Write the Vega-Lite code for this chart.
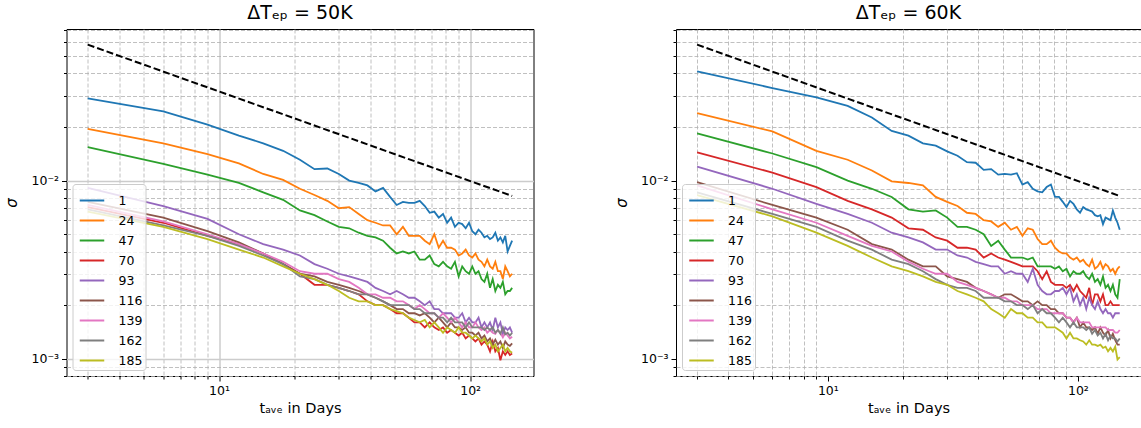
{
"$schema": "https://vega.github.io/schema/vega-lite/v6.json",
"padding": {"left": 3.5, "top": 3, "right": 0, "bottom": 0},
"spacing": 78.5,
"config": {
  "font": "DejaVu Sans",
  "view": {"stroke": "#000000", "strokeWidth": 1},
  "axis": {"domain": false, "labelFont": "DejaVu Sans", "labelFontSize": 12.5, "labelColor": "#000000", "titleFont": "DejaVu Sans", "titleFontSize": 14.5, "titleFontWeight": "normal", "titleColor": "#000000", "tickColor": "#000000", "labelPadding": 3, "tickWidth": 1},
  "title": {"font": "DejaVu Sans", "fontSize": 19, "fontWeight": "normal", "color": "#000000"}
},
"datasets": {
  "ref": [{"t": 3, "v": 0.058}, {"t": 147, "v": 0.0082}],
  "a": [
{"s":"1","t":3,"v":0.0290},{"s":"1","t":6,"v":0.0245},{"s":"1","t":9,"v":0.0206},{"s":"1","t":12,"v":0.0179},{"s":"1","t":15,"v":0.0162},{"s":"1","t":18,"v":0.0147},{"s":"1","t":21,"v":0.0131},{"s":"1","t":24,"v":0.0116},{"s":"1","t":27,"v":0.0117},{"s":"1","t":30,"v":0.0109},{"s":"1","t":33,"v":0.0100},{"s":"1","t":36,"v":0.0097},{"s":"1","t":39,"v":0.0094},{"s":"1","t":42,"v":0.0087},{"s":"1","t":45,"v":0.0091},{"s":"1","t":48,"v":0.0081},{"s":"1","t":51,"v":0.0073},{"s":"1","t":54,"v":0.0076},{"s":"1","t":57,"v":0.0075},{"s":"1","t":60,"v":0.0075},{"s":"1","t":63,"v":0.0077},{"s":"1","t":66,"v":0.0072},{"s":"1","t":69,"v":0.0066},{"s":"1","t":72,"v":0.0067},{"s":"1","t":75,"v":0.0062},{"s":"1","t":78,"v":0.0065},{"s":"1","t":81,"v":0.0058},{"s":"1","t":84,"v":0.0062},{"s":"1","t":87,"v":0.0055},{"s":"1","t":90,"v":0.0058},{"s":"1","t":93,"v":0.0057},{"s":"1","t":96,"v":0.0054},{"s":"1","t":99,"v":0.0058},{"s":"1","t":102,"v":0.0052},{"s":"1","t":105,"v":0.0050},{"s":"1","t":108,"v":0.0053},{"s":"1","t":111,"v":0.0051},{"s":"1","t":114,"v":0.0048},{"s":"1","t":117,"v":0.0049},{"s":"1","t":120,"v":0.0047},{"s":"1","t":123,"v":0.0048},{"s":"1","t":126,"v":0.0051},{"s":"1","t":129,"v":0.0046},{"s":"1","t":132,"v":0.0048},{"s":"1","t":135,"v":0.0045},{"s":"1","t":138,"v":0.0049},{"s":"1","t":141,"v":0.0040},{"s":"1","t":144,"v":0.0043},{"s":"1","t":147,"v":0.0046},
{"s":"24","t":3,"v":0.0195},{"s":"24","t":6,"v":0.0162},{"s":"24","t":9,"v":0.0141},{"s":"24","t":12,"v":0.0125},{"s":"24","t":15,"v":0.0109},{"s":"24","t":18,"v":0.0101},{"s":"24","t":21,"v":0.0090},{"s":"24","t":24,"v":0.0083},{"s":"24","t":27,"v":0.0077},{"s":"24","t":30,"v":0.0070},{"s":"24","t":33,"v":0.0071},{"s":"24","t":36,"v":0.0065},{"s":"24","t":39,"v":0.0060},{"s":"24","t":42,"v":0.0058},{"s":"24","t":45,"v":0.0056},{"s":"24","t":48,"v":0.0056},{"s":"24","t":51,"v":0.0050},{"s":"24","t":54,"v":0.0055},{"s":"24","t":57,"v":0.0049},{"s":"24","t":60,"v":0.0049},{"s":"24","t":63,"v":0.0049},{"s":"24","t":66,"v":0.0046},{"s":"24","t":69,"v":0.0044},{"s":"24","t":72,"v":0.0050},{"s":"24","t":75,"v":0.0042},{"s":"24","t":78,"v":0.0046},{"s":"24","t":81,"v":0.0042},{"s":"24","t":84,"v":0.0042},{"s":"24","t":87,"v":0.0041},{"s":"24","t":90,"v":0.0038},{"s":"24","t":93,"v":0.0039},{"s":"24","t":96,"v":0.0041},{"s":"24","t":99,"v":0.0038},{"s":"24","t":102,"v":0.0037},{"s":"24","t":105,"v":0.0039},{"s":"24","t":108,"v":0.0036},{"s":"24","t":111,"v":0.0035},{"s":"24","t":114,"v":0.0033},{"s":"24","t":117,"v":0.0036},{"s":"24","t":120,"v":0.0033},{"s":"24","t":123,"v":0.0032},{"s":"24","t":126,"v":0.0035},{"s":"24","t":129,"v":0.0031},{"s":"24","t":132,"v":0.0031},{"s":"24","t":135,"v":0.0028},{"s":"24","t":138,"v":0.0033},{"s":"24","t":141,"v":0.0031},{"s":"24","t":144,"v":0.0029},{"s":"24","t":147,"v":0.0030},
{"s":"47","t":3,"v":0.0154},{"s":"47","t":6,"v":0.0124},{"s":"47","t":9,"v":0.0108},{"s":"47","t":12,"v":0.0097},{"s":"47","t":15,"v":0.0086},{"s":"47","t":18,"v":0.0078},{"s":"47","t":21,"v":0.0068},{"s":"47","t":24,"v":0.0064},{"s":"47","t":27,"v":0.0059},{"s":"47","t":30,"v":0.0055},{"s":"47","t":33,"v":0.0054},{"s":"47","t":36,"v":0.0051},{"s":"47","t":39,"v":0.0049},{"s":"47","t":42,"v":0.0048},{"s":"47","t":45,"v":0.0046},{"s":"47","t":48,"v":0.0042},{"s":"47","t":51,"v":0.0039},{"s":"47","t":54,"v":0.0040},{"s":"47","t":57,"v":0.0039},{"s":"47","t":60,"v":0.0040},{"s":"47","t":63,"v":0.0036},{"s":"47","t":66,"v":0.0036},{"s":"47","t":69,"v":0.0038},{"s":"47","t":72,"v":0.0034},{"s":"47","t":75,"v":0.0033},{"s":"47","t":78,"v":0.0035},{"s":"47","t":81,"v":0.0033},{"s":"47","t":84,"v":0.0032},{"s":"47","t":87,"v":0.0035},{"s":"47","t":90,"v":0.0029},{"s":"47","t":93,"v":0.0033},{"s":"47","t":96,"v":0.0031},{"s":"47","t":99,"v":0.0030},{"s":"47","t":102,"v":0.0033},{"s":"47","t":105,"v":0.0030},{"s":"47","t":108,"v":0.0031},{"s":"47","t":111,"v":0.0028},{"s":"47","t":114,"v":0.0027},{"s":"47","t":117,"v":0.0030},{"s":"47","t":120,"v":0.0025},{"s":"47","t":123,"v":0.0028},{"s":"47","t":126,"v":0.0024},{"s":"47","t":129,"v":0.0026},{"s":"47","t":132,"v":0.0025},{"s":"47","t":135,"v":0.0027},{"s":"47","t":138,"v":0.0023},{"s":"47","t":141,"v":0.0024},{"s":"47","t":144,"v":0.0024},{"s":"47","t":147,"v":0.0025},
{"s":"70","t":3,"v":0.0071},{"s":"70","t":6,"v":0.0058},{"s":"70","t":9,"v":0.0049},{"s":"70","t":12,"v":0.0044},{"s":"70","t":15,"v":0.0039},{"s":"70","t":18,"v":0.0034},{"s":"70","t":21,"v":0.0030},{"s":"70","t":24,"v":0.0026},{"s":"70","t":27,"v":0.0026},{"s":"70","t":30,"v":0.0025},{"s":"70","t":33,"v":0.0024},{"s":"70","t":36,"v":0.0023},{"s":"70","t":39,"v":0.0021},{"s":"70","t":42,"v":0.0020},{"s":"70","t":45,"v":0.0020},{"s":"70","t":48,"v":0.0019},{"s":"70","t":51,"v":0.0018},{"s":"70","t":54,"v":0.0018},{"s":"70","t":57,"v":0.0017},{"s":"70","t":60,"v":0.0016},{"s":"70","t":63,"v":0.0016},{"s":"70","t":66,"v":0.0015},{"s":"70","t":69,"v":0.0016},{"s":"70","t":72,"v":0.0015},{"s":"70","t":75,"v":0.00145},{"s":"70","t":78,"v":0.0015},{"s":"70","t":81,"v":0.0014},{"s":"70","t":84,"v":0.00145},{"s":"70","t":87,"v":0.0014},{"s":"70","t":90,"v":0.00135},{"s":"70","t":93,"v":0.0014},{"s":"70","t":96,"v":0.0013},{"s":"70","t":99,"v":0.00135},{"s":"70","t":102,"v":0.0013},{"s":"70","t":105,"v":0.00125},{"s":"70","t":108,"v":0.0013},{"s":"70","t":111,"v":0.0012},{"s":"70","t":114,"v":0.00125},{"s":"70","t":117,"v":0.0012},{"s":"70","t":120,"v":0.0011},{"s":"70","t":123,"v":0.00125},{"s":"70","t":126,"v":0.0011},{"s":"70","t":129,"v":0.00115},{"s":"70","t":132,"v":0.00098},{"s":"70","t":135,"v":0.0011},{"s":"70","t":138,"v":0.00105},{"s":"70","t":141,"v":0.0011},{"s":"70","t":144,"v":0.00105},{"s":"70","t":147,"v":0.00107},
{"s":"93","t":3,"v":0.0091},{"s":"93","t":6,"v":0.0072},{"s":"93","t":9,"v":0.0061},{"s":"93","t":12,"v":0.0050},{"s":"93","t":15,"v":0.0044},{"s":"93","t":18,"v":0.0041},{"s":"93","t":21,"v":0.0038},{"s":"93","t":24,"v":0.0034},{"s":"93","t":27,"v":0.0032},{"s":"93","t":30,"v":0.0030},{"s":"93","t":33,"v":0.0029},{"s":"93","t":36,"v":0.0028},{"s":"93","t":39,"v":0.0027},{"s":"93","t":42,"v":0.0025},{"s":"93","t":45,"v":0.0024},{"s":"93","t":48,"v":0.0023},{"s":"93","t":51,"v":0.0024},{"s":"93","t":54,"v":0.0023},{"s":"93","t":57,"v":0.0022},{"s":"93","t":60,"v":0.0022},{"s":"93","t":63,"v":0.0021},{"s":"93","t":66,"v":0.0020},{"s":"93","t":69,"v":0.0021},{"s":"93","t":72,"v":0.0019},{"s":"93","t":75,"v":0.0019},{"s":"93","t":78,"v":0.0018},{"s":"93","t":81,"v":0.0018},{"s":"93","t":84,"v":0.0018},{"s":"93","t":87,"v":0.0017},{"s":"93","t":90,"v":0.0017},{"s":"93","t":93,"v":0.0018},{"s":"93","t":96,"v":0.0016},{"s":"93","t":99,"v":0.0017},{"s":"93","t":102,"v":0.0016},{"s":"93","t":105,"v":0.0016},{"s":"93","t":108,"v":0.0017},{"s":"93","t":111,"v":0.0015},{"s":"93","t":114,"v":0.0016},{"s":"93","t":117,"v":0.0015},{"s":"93","t":120,"v":0.0016},{"s":"93","t":123,"v":0.00145},{"s":"93","t":126,"v":0.0017},{"s":"93","t":129,"v":0.0015},{"s":"93","t":132,"v":0.0016},{"s":"93","t":135,"v":0.00138},{"s":"93","t":138,"v":0.0015},{"s":"93","t":141,"v":0.00145},{"s":"93","t":144,"v":0.0015},{"s":"93","t":147,"v":0.0014},
{"s":"116","t":3,"v":0.0076},{"s":"116","t":6,"v":0.0062},{"s":"116","t":9,"v":0.0052},{"s":"116","t":12,"v":0.0045},{"s":"116","t":15,"v":0.0039},{"s":"116","t":18,"v":0.0034},{"s":"116","t":21,"v":0.0030},{"s":"116","t":24,"v":0.0029},{"s":"116","t":27,"v":0.0027},{"s":"116","t":30,"v":0.0026},{"s":"116","t":33,"v":0.0025},{"s":"116","t":36,"v":0.0024},{"s":"116","t":39,"v":0.0023},{"s":"116","t":42,"v":0.0022},{"s":"116","t":45,"v":0.0021},{"s":"116","t":48,"v":0.0020},{"s":"116","t":51,"v":0.0019},{"s":"116","t":54,"v":0.0019},{"s":"116","t":57,"v":0.0018},{"s":"116","t":60,"v":0.0018},{"s":"116","t":63,"v":0.00175},{"s":"116","t":66,"v":0.0018},{"s":"116","t":69,"v":0.0017},{"s":"116","t":72,"v":0.0016},{"s":"116","t":75,"v":0.0017},{"s":"116","t":78,"v":0.0016},{"s":"116","t":81,"v":0.0015},{"s":"116","t":84,"v":0.0016},{"s":"116","t":87,"v":0.0015},{"s":"116","t":90,"v":0.0015},{"s":"116","t":93,"v":0.00145},{"s":"116","t":96,"v":0.0015},{"s":"116","t":99,"v":0.0014},{"s":"116","t":102,"v":0.0014},{"s":"116","t":105,"v":0.00135},{"s":"116","t":108,"v":0.0014},{"s":"116","t":111,"v":0.0013},{"s":"116","t":114,"v":0.00135},{"s":"116","t":117,"v":0.00125},{"s":"116","t":120,"v":0.0013},{"s":"116","t":123,"v":0.0012},{"s":"116","t":126,"v":0.00128},{"s":"116","t":129,"v":0.0012},{"s":"116","t":132,"v":0.00125},{"s":"116","t":135,"v":0.00115},{"s":"116","t":138,"v":0.00125},{"s":"116","t":141,"v":0.0012},{"s":"116","t":144,"v":0.00118},{"s":"116","t":147,"v":0.00122},
{"s":"139","t":3,"v":0.0073},{"s":"139","t":6,"v":0.0059},{"s":"139","t":9,"v":0.0050},{"s":"139","t":12,"v":0.0044},{"s":"139","t":15,"v":0.0039},{"s":"139","t":18,"v":0.0035},{"s":"139","t":21,"v":0.0031},{"s":"139","t":24,"v":0.0030},{"s":"139","t":27,"v":0.0030},{"s":"139","t":30,"v":0.0028},{"s":"139","t":33,"v":0.0027},{"s":"139","t":36,"v":0.0025},{"s":"139","t":39,"v":0.0023},{"s":"139","t":42,"v":0.0023},{"s":"139","t":45,"v":0.0022},{"s":"139","t":48,"v":0.0022},{"s":"139","t":51,"v":0.0021},{"s":"139","t":54,"v":0.0021},{"s":"139","t":57,"v":0.0020},{"s":"139","t":60,"v":0.0019},{"s":"139","t":63,"v":0.0020},{"s":"139","t":66,"v":0.0019},{"s":"139","t":69,"v":0.0018},{"s":"139","t":72,"v":0.0018},{"s":"139","t":75,"v":0.0017},{"s":"139","t":78,"v":0.0018},{"s":"139","t":81,"v":0.0017},{"s":"139","t":84,"v":0.0016},{"s":"139","t":87,"v":0.0017},{"s":"139","t":90,"v":0.0016},{"s":"139","t":93,"v":0.0015},{"s":"139","t":96,"v":0.0016},{"s":"139","t":99,"v":0.0015},{"s":"139","t":102,"v":0.0015},{"s":"139","t":105,"v":0.0016},{"s":"139","t":108,"v":0.0015},{"s":"139","t":111,"v":0.00145},{"s":"139","t":114,"v":0.0015},{"s":"139","t":117,"v":0.0014},{"s":"139","t":120,"v":0.00145},{"s":"139","t":123,"v":0.0014},{"s":"139","t":126,"v":0.00138},{"s":"139","t":129,"v":0.00145},{"s":"139","t":132,"v":0.0014},{"s":"139","t":135,"v":0.00132},{"s":"139","t":138,"v":0.0014},{"s":"139","t":141,"v":0.00135},{"s":"139","t":144,"v":0.0013},{"s":"139","t":147,"v":0.00133},
{"s":"162","t":3,"v":0.0069},{"s":"162","t":6,"v":0.0056},{"s":"162","t":9,"v":0.0049},{"s":"162","t":12,"v":0.0043},{"s":"162","t":15,"v":0.0038},{"s":"162","t":18,"v":0.0034},{"s":"162","t":21,"v":0.0029},{"s":"162","t":24,"v":0.0028},{"s":"162","t":27,"v":0.0026},{"s":"162","t":30,"v":0.0025},{"s":"162","t":33,"v":0.0024},{"s":"162","t":36,"v":0.0023},{"s":"162","t":39,"v":0.0023},{"s":"162","t":42,"v":0.0022},{"s":"162","t":45,"v":0.0021},{"s":"162","t":48,"v":0.0020},{"s":"162","t":51,"v":0.0020},{"s":"162","t":54,"v":0.0020},{"s":"162","t":57,"v":0.0020},{"s":"162","t":60,"v":0.0019},{"s":"162","t":63,"v":0.0019},{"s":"162","t":66,"v":0.0018},{"s":"162","t":69,"v":0.0018},{"s":"162","t":72,"v":0.0018},{"s":"162","t":75,"v":0.0017},{"s":"162","t":78,"v":0.0017},{"s":"162","t":81,"v":0.0016},{"s":"162","t":84,"v":0.0017},{"s":"162","t":87,"v":0.0016},{"s":"162","t":90,"v":0.0016},{"s":"162","t":93,"v":0.0016},{"s":"162","t":96,"v":0.0015},{"s":"162","t":99,"v":0.0016},{"s":"162","t":102,"v":0.0015},{"s":"162","t":105,"v":0.0015},{"s":"162","t":108,"v":0.0015},{"s":"162","t":111,"v":0.0015},{"s":"162","t":114,"v":0.00145},{"s":"162","t":117,"v":0.0015},{"s":"162","t":120,"v":0.00145},{"s":"162","t":123,"v":0.0015},{"s":"162","t":126,"v":0.0014},{"s":"162","t":129,"v":0.00145},{"s":"162","t":132,"v":0.00138},{"s":"162","t":135,"v":0.0015},{"s":"162","t":138,"v":0.00137},{"s":"162","t":141,"v":0.0014},{"s":"162","t":144,"v":0.00135},{"s":"162","t":147,"v":0.0014},
{"s":"185","t":3,"v":0.0067},{"s":"185","t":6,"v":0.0055},{"s":"185","t":9,"v":0.0047},{"s":"185","t":12,"v":0.0041},{"s":"185","t":15,"v":0.0037},{"s":"185","t":18,"v":0.0033},{"s":"185","t":21,"v":0.0030},{"s":"185","t":24,"v":0.0028},{"s":"185","t":27,"v":0.0026},{"s":"185","t":30,"v":0.0024},{"s":"185","t":33,"v":0.0022},{"s":"185","t":36,"v":0.0021},{"s":"185","t":39,"v":0.0021},{"s":"185","t":42,"v":0.0020},{"s":"185","t":45,"v":0.0020},{"s":"185","t":48,"v":0.0019},{"s":"185","t":51,"v":0.00185},{"s":"185","t":54,"v":0.0018},{"s":"185","t":57,"v":0.0017},{"s":"185","t":60,"v":0.00165},{"s":"185","t":63,"v":0.0016},{"s":"185","t":66,"v":0.00165},{"s":"185","t":69,"v":0.0015},{"s":"185","t":72,"v":0.0016},{"s":"185","t":75,"v":0.0015},{"s":"185","t":78,"v":0.0014},{"s":"185","t":81,"v":0.0015},{"s":"185","t":84,"v":0.00145},{"s":"185","t":87,"v":0.0014},{"s":"185","t":90,"v":0.0015},{"s":"185","t":93,"v":0.0014},{"s":"185","t":96,"v":0.0014},{"s":"185","t":99,"v":0.00135},{"s":"185","t":102,"v":0.0013},{"s":"185","t":105,"v":0.00135},{"s":"185","t":108,"v":0.0013},{"s":"185","t":111,"v":0.00125},{"s":"185","t":114,"v":0.0013},{"s":"185","t":117,"v":0.0012},{"s":"185","t":120,"v":0.00125},{"s":"185","t":123,"v":0.00115},{"s":"185","t":126,"v":0.0012},{"s":"185","t":129,"v":0.0011},{"s":"185","t":132,"v":0.00115},{"s":"185","t":135,"v":0.0012},{"s":"185","t":138,"v":0.0011},{"s":"185","t":141,"v":0.00115},{"s":"185","t":144,"v":0.0011},{"s":"185","t":147,"v":0.00108}
  ],
  "b": [
{"s":"1","t":3,"v":0.0410},{"s":"1","t":6,"v":0.0331},{"s":"1","t":9,"v":0.0293},{"s":"1","t":12,"v":0.0263},{"s":"1","t":15,"v":0.0226},{"s":"1","t":18,"v":0.0190},{"s":"1","t":21,"v":0.0179},{"s":"1","t":24,"v":0.0162},{"s":"1","t":27,"v":0.0157},{"s":"1","t":30,"v":0.0146},{"s":"1","t":33,"v":0.0138},{"s":"1","t":36,"v":0.0127},{"s":"1","t":39,"v":0.0126},{"s":"1","t":42,"v":0.0115},{"s":"1","t":45,"v":0.0116},{"s":"1","t":48,"v":0.0108},{"s":"1","t":51,"v":0.0109},{"s":"1","t":54,"v":0.0108},{"s":"1","t":57,"v":0.0110},{"s":"1","t":60,"v":0.0095},{"s":"1","t":63,"v":0.0098},{"s":"1","t":66,"v":0.0090},{"s":"1","t":69,"v":0.0087},{"s":"1","t":72,"v":0.0086},{"s":"1","t":75,"v":0.0092},{"s":"1","t":78,"v":0.0095},{"s":"1","t":81,"v":0.0081},{"s":"1","t":84,"v":0.0081},{"s":"1","t":87,"v":0.0076},{"s":"1","t":90,"v":0.0071},{"s":"1","t":93,"v":0.0077},{"s":"1","t":96,"v":0.0074},{"s":"1","t":99,"v":0.0069},{"s":"1","t":102,"v":0.0066},{"s":"1","t":105,"v":0.0071},{"s":"1","t":108,"v":0.0069},{"s":"1","t":111,"v":0.0068},{"s":"1","t":114,"v":0.0067},{"s":"1","t":117,"v":0.0064},{"s":"1","t":120,"v":0.0063},{"s":"1","t":123,"v":0.0064},{"s":"1","t":126,"v":0.0057},{"s":"1","t":129,"v":0.0062},{"s":"1","t":132,"v":0.0061},{"s":"1","t":135,"v":0.0060},{"s":"1","t":138,"v":0.0068},{"s":"1","t":141,"v":0.0062},{"s":"1","t":144,"v":0.0058},{"s":"1","t":147,"v":0.0053},
{"s":"24","t":3,"v":0.0239},{"s":"24","t":6,"v":0.0189},{"s":"24","t":9,"v":0.0147},{"s":"24","t":12,"v":0.0131},{"s":"24","t":15,"v":0.0114},{"s":"24","t":18,"v":0.0099},{"s":"24","t":21,"v":0.0097},{"s":"24","t":24,"v":0.0094},{"s":"24","t":27,"v":0.0081},{"s":"24","t":30,"v":0.0076},{"s":"24","t":33,"v":0.0072},{"s":"24","t":36,"v":0.0066},{"s":"24","t":39,"v":0.0065},{"s":"24","t":42,"v":0.0060},{"s":"24","t":45,"v":0.0059},{"s":"24","t":48,"v":0.0055},{"s":"24","t":51,"v":0.0058},{"s":"24","t":54,"v":0.0053},{"s":"24","t":57,"v":0.0055},{"s":"24","t":60,"v":0.0049},{"s":"24","t":63,"v":0.0054},{"s":"24","t":66,"v":0.0053},{"s":"24","t":69,"v":0.0047},{"s":"24","t":72,"v":0.0044},{"s":"24","t":75,"v":0.0044},{"s":"24","t":78,"v":0.0046},{"s":"24","t":81,"v":0.0042},{"s":"24","t":84,"v":0.0040},{"s":"24","t":87,"v":0.0039},{"s":"24","t":90,"v":0.0039},{"s":"24","t":93,"v":0.0037},{"s":"24","t":96,"v":0.0036},{"s":"24","t":99,"v":0.0037},{"s":"24","t":102,"v":0.0035},{"s":"24","t":105,"v":0.0036},{"s":"24","t":108,"v":0.0034},{"s":"24","t":111,"v":0.0033},{"s":"24","t":114,"v":0.0036},{"s":"24","t":117,"v":0.0032},{"s":"24","t":120,"v":0.0033},{"s":"24","t":123,"v":0.0035},{"s":"24","t":126,"v":0.0032},{"s":"24","t":129,"v":0.0034},{"s":"24","t":132,"v":0.0033},{"s":"24","t":135,"v":0.0031},{"s":"24","t":138,"v":0.0032},{"s":"24","t":141,"v":0.0030},{"s":"24","t":144,"v":0.0032},{"s":"24","t":147,"v":0.0033},
{"s":"47","t":3,"v":0.0184},{"s":"47","t":6,"v":0.0142},{"s":"47","t":9,"v":0.0119},{"s":"47","t":12,"v":0.0100},{"s":"47","t":15,"v":0.0090},{"s":"47","t":18,"v":0.0081},{"s":"47","t":21,"v":0.0069},{"s":"47","t":24,"v":0.0067},{"s":"47","t":27,"v":0.0068},{"s":"47","t":30,"v":0.0062},{"s":"47","t":33,"v":0.0055},{"s":"47","t":36,"v":0.0055},{"s":"47","t":39,"v":0.0053},{"s":"47","t":42,"v":0.0050},{"s":"47","t":45,"v":0.0043},{"s":"47","t":48,"v":0.0046},{"s":"47","t":51,"v":0.0041},{"s":"47","t":54,"v":0.0037},{"s":"47","t":57,"v":0.0037},{"s":"47","t":60,"v":0.0037},{"s":"47","t":63,"v":0.0036},{"s":"47","t":66,"v":0.0037},{"s":"47","t":69,"v":0.0033},{"s":"47","t":72,"v":0.0033},{"s":"47","t":75,"v":0.0033},{"s":"47","t":78,"v":0.0033},{"s":"47","t":81,"v":0.0032},{"s":"47","t":84,"v":0.0033},{"s":"47","t":87,"v":0.0031},{"s":"47","t":90,"v":0.0032},{"s":"47","t":93,"v":0.0029},{"s":"47","t":96,"v":0.0031},{"s":"47","t":99,"v":0.0030},{"s":"47","t":102,"v":0.0030},{"s":"47","t":105,"v":0.0031},{"s":"47","t":108,"v":0.0029},{"s":"47","t":111,"v":0.0028},{"s":"47","t":114,"v":0.0030},{"s":"47","t":117,"v":0.0027},{"s":"47","t":120,"v":0.0028},{"s":"47","t":123,"v":0.0026},{"s":"47","t":126,"v":0.0029},{"s":"47","t":129,"v":0.0025},{"s":"47","t":132,"v":0.0026},{"s":"47","t":135,"v":0.0024},{"s":"47","t":138,"v":0.0026},{"s":"47","t":141,"v":0.0023},{"s":"47","t":144,"v":0.0022},{"s":"47","t":147,"v":0.0028},
{"s":"70","t":3,"v":0.0144},{"s":"70","t":6,"v":0.0111},{"s":"70","t":9,"v":0.0092},{"s":"70","t":12,"v":0.0077},{"s":"70","t":15,"v":0.0069},{"s":"70","t":18,"v":0.0062},{"s":"70","t":21,"v":0.0054},{"s":"70","t":24,"v":0.0053},{"s":"70","t":27,"v":0.0048},{"s":"70","t":30,"v":0.0046},{"s":"70","t":33,"v":0.0042},{"s":"70","t":36,"v":0.0042},{"s":"70","t":39,"v":0.0041},{"s":"70","t":42,"v":0.0037},{"s":"70","t":45,"v":0.0039},{"s":"70","t":48,"v":0.0037},{"s":"70","t":51,"v":0.0036},{"s":"70","t":54,"v":0.0035},{"s":"70","t":57,"v":0.0034},{"s":"70","t":60,"v":0.0033},{"s":"70","t":63,"v":0.0033},{"s":"70","t":66,"v":0.0033},{"s":"70","t":69,"v":0.0031},{"s":"70","t":72,"v":0.0028},{"s":"70","t":75,"v":0.0031},{"s":"70","t":78,"v":0.0027},{"s":"70","t":81,"v":0.0026},{"s":"70","t":84,"v":0.0026},{"s":"70","t":87,"v":0.0026},{"s":"70","t":90,"v":0.0025},{"s":"70","t":93,"v":0.0026},{"s":"70","t":96,"v":0.0024},{"s":"70","t":99,"v":0.0026},{"s":"70","t":102,"v":0.0024},{"s":"70","t":105,"v":0.0023},{"s":"70","t":108,"v":0.0022},{"s":"70","t":111,"v":0.0025},{"s":"70","t":114,"v":0.0020},{"s":"70","t":117,"v":0.0023},{"s":"70","t":120,"v":0.0023},{"s":"70","t":123,"v":0.0021},{"s":"70","t":126,"v":0.0023},{"s":"70","t":129,"v":0.0020},{"s":"70","t":132,"v":0.0020},{"s":"70","t":135,"v":0.0021},{"s":"70","t":138,"v":0.0020},{"s":"70","t":141,"v":0.0020},{"s":"70","t":144,"v":0.0020},{"s":"70","t":147,"v":0.0020},
{"s":"93","t":3,"v":0.0120},{"s":"93","t":6,"v":0.0090},{"s":"93","t":9,"v":0.0074},{"s":"93","t":12,"v":0.0065},{"s":"93","t":15,"v":0.0058},{"s":"93","t":18,"v":0.0051},{"s":"93","t":21,"v":0.0048},{"s":"93","t":24,"v":0.0045},{"s":"93","t":27,"v":0.0041},{"s":"93","t":30,"v":0.0041},{"s":"93","t":33,"v":0.0038},{"s":"93","t":36,"v":0.0037},{"s":"93","t":39,"v":0.0035},{"s":"93","t":42,"v":0.0034},{"s":"93","t":45,"v":0.0033},{"s":"93","t":48,"v":0.0033},{"s":"93","t":51,"v":0.0030},{"s":"93","t":54,"v":0.0031},{"s":"93","t":57,"v":0.0030},{"s":"93","t":60,"v":0.0030},{"s":"93","t":63,"v":0.0027},{"s":"93","t":66,"v":0.0032},{"s":"93","t":69,"v":0.0026},{"s":"93","t":72,"v":0.0024},{"s":"93","t":75,"v":0.0023},{"s":"93","t":78,"v":0.0023},{"s":"93","t":81,"v":0.0024},{"s":"93","t":84,"v":0.0024},{"s":"93","t":87,"v":0.0025},{"s":"93","t":90,"v":0.0023},{"s":"93","t":93,"v":0.0025},{"s":"93","t":96,"v":0.0021},{"s":"93","t":99,"v":0.0023},{"s":"93","t":102,"v":0.0020},{"s":"93","t":105,"v":0.0022},{"s":"93","t":108,"v":0.0019},{"s":"93","t":111,"v":0.0022},{"s":"93","t":114,"v":0.0020},{"s":"93","t":117,"v":0.0019},{"s":"93","t":120,"v":0.0021},{"s":"93","t":123,"v":0.0019},{"s":"93","t":126,"v":0.0018},{"s":"93","t":129,"v":0.0019},{"s":"93","t":132,"v":0.0018},{"s":"93","t":135,"v":0.0018},{"s":"93","t":138,"v":0.0017},{"s":"93","t":141,"v":0.0018},{"s":"93","t":144,"v":0.0018},{"s":"93","t":147,"v":0.0018},
{"s":"116","t":3,"v":0.0098},{"s":"116","t":6,"v":0.0073},{"s":"116","t":9,"v":0.0062},{"s":"116","t":12,"v":0.0053},{"s":"116","t":15,"v":0.0044},{"s":"116","t":18,"v":0.0041},{"s":"116","t":21,"v":0.0036},{"s":"116","t":24,"v":0.0033},{"s":"116","t":27,"v":0.0033},{"s":"116","t":30,"v":0.0029},{"s":"116","t":33,"v":0.0028},{"s":"116","t":36,"v":0.0027},{"s":"116","t":39,"v":0.0025},{"s":"116","t":42,"v":0.0024},{"s":"116","t":45,"v":0.0023},{"s":"116","t":48,"v":0.0022},{"s":"116","t":51,"v":0.0023},{"s":"116","t":54,"v":0.0023},{"s":"116","t":57,"v":0.0022},{"s":"116","t":60,"v":0.0021},{"s":"116","t":63,"v":0.0021},{"s":"116","t":66,"v":0.0020},{"s":"116","t":69,"v":0.0021},{"s":"116","t":72,"v":0.0020},{"s":"116","t":75,"v":0.0020},{"s":"116","t":78,"v":0.0019},{"s":"116","t":81,"v":0.0019},{"s":"116","t":84,"v":0.0018},{"s":"116","t":87,"v":0.0018},{"s":"116","t":90,"v":0.0017},{"s":"116","t":93,"v":0.0017},{"s":"116","t":96,"v":0.0016},{"s":"116","t":99,"v":0.0017},{"s":"116","t":102,"v":0.0015},{"s":"116","t":105,"v":0.0016},{"s":"116","t":108,"v":0.0015},{"s":"116","t":111,"v":0.0015},{"s":"116","t":114,"v":0.00145},{"s":"116","t":117,"v":0.0015},{"s":"116","t":120,"v":0.00138},{"s":"116","t":123,"v":0.0015},{"s":"116","t":126,"v":0.0014},{"s":"116","t":129,"v":0.00135},{"s":"116","t":132,"v":0.00145},{"s":"116","t":135,"v":0.0013},{"s":"116","t":138,"v":0.00138},{"s":"116","t":141,"v":0.00127},{"s":"116","t":144,"v":0.0012},{"s":"116","t":147,"v":0.0012},
{"s":"139","t":3,"v":0.0094},{"s":"139","t":6,"v":0.0069},{"s":"139","t":9,"v":0.0058},{"s":"139","t":12,"v":0.0049},{"s":"139","t":15,"v":0.0043},{"s":"139","t":18,"v":0.0040},{"s":"139","t":21,"v":0.0035},{"s":"139","t":24,"v":0.0032},{"s":"139","t":27,"v":0.0030},{"s":"139","t":30,"v":0.0030},{"s":"139","t":33,"v":0.0027},{"s":"139","t":36,"v":0.0026},{"s":"139","t":39,"v":0.0025},{"s":"139","t":42,"v":0.0024},{"s":"139","t":45,"v":0.0023},{"s":"139","t":48,"v":0.0022},{"s":"139","t":51,"v":0.0022},{"s":"139","t":54,"v":0.0021},{"s":"139","t":57,"v":0.0021},{"s":"139","t":60,"v":0.0020},{"s":"139","t":63,"v":0.0020},{"s":"139","t":66,"v":0.0020},{"s":"139","t":69,"v":0.0019},{"s":"139","t":72,"v":0.0019},{"s":"139","t":75,"v":0.0019},{"s":"139","t":78,"v":0.0018},{"s":"139","t":81,"v":0.0018},{"s":"139","t":84,"v":0.0018},{"s":"139","t":87,"v":0.0018},{"s":"139","t":90,"v":0.0017},{"s":"139","t":93,"v":0.0017},{"s":"139","t":96,"v":0.0016},{"s":"139","t":99,"v":0.0017},{"s":"139","t":102,"v":0.0016},{"s":"139","t":105,"v":0.0016},{"s":"139","t":108,"v":0.0016},{"s":"139","t":111,"v":0.0016},{"s":"139","t":114,"v":0.0015},{"s":"139","t":117,"v":0.0015},{"s":"139","t":120,"v":0.0015},{"s":"139","t":123,"v":0.0015},{"s":"139","t":126,"v":0.0015},{"s":"139","t":129,"v":0.0015},{"s":"139","t":132,"v":0.00145},{"s":"139","t":135,"v":0.00145},{"s":"139","t":138,"v":0.00145},{"s":"139","t":141,"v":0.0014},{"s":"139","t":144,"v":0.0014},{"s":"139","t":147,"v":0.00145},
{"s":"162","t":3,"v":0.0086},{"s":"162","t":6,"v":0.0065},{"s":"162","t":9,"v":0.0055},{"s":"162","t":12,"v":0.0046},{"s":"162","t":15,"v":0.0041},{"s":"162","t":18,"v":0.0036},{"s":"162","t":21,"v":0.0034},{"s":"162","t":24,"v":0.0031},{"s":"162","t":27,"v":0.0028},{"s":"162","t":30,"v":0.0026},{"s":"162","t":33,"v":0.0025},{"s":"162","t":36,"v":0.0025},{"s":"162","t":39,"v":0.0024},{"s":"162","t":42,"v":0.0022},{"s":"162","t":45,"v":0.0022},{"s":"162","t":48,"v":0.0022},{"s":"162","t":51,"v":0.0021},{"s":"162","t":54,"v":0.0021},{"s":"162","t":57,"v":0.0020},{"s":"162","t":60,"v":0.0020},{"s":"162","t":63,"v":0.0019},{"s":"162","t":66,"v":0.0020},{"s":"162","t":69,"v":0.0018},{"s":"162","t":72,"v":0.0019},{"s":"162","t":75,"v":0.0018},{"s":"162","t":78,"v":0.0018},{"s":"162","t":81,"v":0.0017},{"s":"162","t":84,"v":0.0016},{"s":"162","t":87,"v":0.0017},{"s":"162","t":90,"v":0.0016},{"s":"162","t":93,"v":0.0015},{"s":"162","t":96,"v":0.0016},{"s":"162","t":99,"v":0.0015},{"s":"162","t":102,"v":0.0015},{"s":"162","t":105,"v":0.0015},{"s":"162","t":108,"v":0.00145},{"s":"162","t":111,"v":0.0015},{"s":"162","t":114,"v":0.00138},{"s":"162","t":117,"v":0.00145},{"s":"162","t":120,"v":0.00135},{"s":"162","t":123,"v":0.0014},{"s":"162","t":126,"v":0.0013},{"s":"162","t":129,"v":0.00138},{"s":"162","t":132,"v":0.00127},{"s":"162","t":135,"v":0.00135},{"s":"162","t":138,"v":0.0013},{"s":"162","t":141,"v":0.0013},{"s":"162","t":144,"v":0.00125},{"s":"162","t":147,"v":0.0013},
{"s":"185","t":3,"v":0.0083},{"s":"185","t":6,"v":0.0063},{"s":"185","t":9,"v":0.0051},{"s":"185","t":12,"v":0.0043},{"s":"185","t":15,"v":0.0037},{"s":"185","t":18,"v":0.0033},{"s":"185","t":21,"v":0.0031},{"s":"185","t":24,"v":0.0029},{"s":"185","t":27,"v":0.0027},{"s":"185","t":30,"v":0.0026},{"s":"185","t":33,"v":0.0024},{"s":"185","t":36,"v":0.0023},{"s":"185","t":39,"v":0.0022},{"s":"185","t":42,"v":0.0021},{"s":"185","t":45,"v":0.0019},{"s":"185","t":48,"v":0.0018},{"s":"185","t":51,"v":0.0017},{"s":"185","t":54,"v":0.0019},{"s":"185","t":57,"v":0.0018},{"s":"185","t":60,"v":0.0018},{"s":"185","t":63,"v":0.0017},{"s":"185","t":66,"v":0.0017},{"s":"185","t":69,"v":0.0016},{"s":"185","t":72,"v":0.0016},{"s":"185","t":75,"v":0.0015},{"s":"185","t":78,"v":0.0015},{"s":"185","t":81,"v":0.0015},{"s":"185","t":84,"v":0.00145},{"s":"185","t":87,"v":0.0014},{"s":"185","t":90,"v":0.0013},{"s":"185","t":93,"v":0.0014},{"s":"185","t":96,"v":0.0013},{"s":"185","t":99,"v":0.0013},{"s":"185","t":102,"v":0.00127},{"s":"185","t":105,"v":0.00125},{"s":"185","t":108,"v":0.0012},{"s":"185","t":111,"v":0.00127},{"s":"185","t":114,"v":0.0012},{"s":"185","t":117,"v":0.0012},{"s":"185","t":120,"v":0.00118},{"s":"185","t":123,"v":0.0012},{"s":"185","t":126,"v":0.00115},{"s":"185","t":129,"v":0.00117},{"s":"185","t":132,"v":0.0011},{"s":"185","t":135,"v":0.00115},{"s":"185","t":138,"v":0.0011},{"s":"185","t":141,"v":0.00117},{"s":"185","t":144,"v":0.00099},{"s":"185","t":147,"v":0.00102}
  ]
},
"resolve": {"scale": {"color": "independent"}, "legend": {"color": "independent"}},
"hconcat": [
  {
    "width": 467, "height": 347,
    "title": {"text": "ΔTₑₚ = 50K", "frame": "group", "anchor": "middle", "offset": 1.5},
    "encoding": {
      "x": {"field": "t", "type": "quantitative", "title": "tₐᵥₑ in Days",
        "scale": {"type": "log", "domain": [2.47, 178.8], "nice": false},
        "axis": {"values": [3,4,5,6,7,8,9,10,20,30,40,50,60,70,80,90,100],
          "labelExpr": "datum.value == 10 ? '10¹' : datum.value == 100 ? '10²' : ''",
          "labelOverlap": false, "labelFlush": false, "titlePadding": 5,
          "tickSize": {"condition": {"test": "datum.value == 10 || datum.value == 100", "value": 5}, "value": 3},
          "gridColor": {"condition": {"test": "datum.value == 10 || datum.value == 100", "value": "#cccccc"}, "value": "#b0b0b0"},
          "gridDash": {"condition": {"test": "datum.value == 10 || datum.value == 100", "value": []}, "value": [4, 2]},
          "gridWidth": {"condition": {"test": "datum.value == 10 || datum.value == 100", "value": 1.5}, "value": 0.8}}},
      "y": {"field": "v", "type": "quantitative", "title": "σ",
        "scale": {"type": "log", "domain": [0.0008, 0.071], "nice": false},
        "axis": {"values": [0.0008,0.0009,0.001,0.002,0.003,0.004,0.005,0.006,0.007,0.008,0.009,0.01,0.02,0.03,0.04,0.05,0.06,0.07],
          "labelExpr": "datum.value == 0.01 ? '10⁻²' : datum.value == 0.001 ? '10⁻³' : ''",
          "labelOverlap": false, "labelFlush": false, "titleX": -47, "titleFontStyle": "italic", "titleFontSize": 15,
          "tickSize": {"condition": {"test": "datum.value == 0.01 || datum.value == 0.001", "value": 5}, "value": 3},
          "gridColor": {"condition": {"test": "datum.value == 0.01 || datum.value == 0.001", "value": "#cccccc"}, "value": "#b0b0b0"},
          "gridDash": {"condition": {"test": "datum.value == 0.01 || datum.value == 0.001", "value": []}, "value": [4, 2]},
          "gridWidth": {"condition": {"test": "datum.value == 0.01 || datum.value == 0.001", "value": 1.5}, "value": 0.8}}}
    },
    "layer": [
      {"data": {"name": "a"}, "mark": {"type": "line", "strokeWidth": 1.8},
       "encoding": {"color": {"field": "s", "type": "nominal",
         "scale": {"domain": ["1","24","47","70","93","116","139","162","185"], "range": ["#1f77b4","#ff7f0e","#2ca02c","#d62728","#9467bd","#8c564b","#e377c2","#7f7f7f","#bcbd22"]},
         "legend": {"orient": "bottom-left", "offset": 6, "title": null, "symbolType": "stroke", "symbolSize": 600, "symbolStrokeWidth": 2, "symbolOffset": 3, "labelFontSize": 12.5, "labelFont": "DejaVu Sans", "labelColor": "#000000", "labelOffset": 13, "rowPadding": -2.4, "padding": 3, "fillColor": "rgba(255,255,255,0.8)", "strokeColor": "#cccccc", "cornerRadius": 3}}}},
      {"data": {"name": "ref"}, "mark": {"type": "line", "color": "#000000", "strokeDash": [7, 3], "strokeWidth": 2}, "encoding": {}}
    ]
  },
  {
    "width": 465, "height": 347,
    "title": {"text": "ΔTₑₚ = 60K", "frame": "group", "anchor": "middle", "offset": 1.5},
    "encoding": {
      "x": {"field": "t", "type": "quantitative", "title": "tₐᵥₑ in Days",
        "scale": {"type": "log", "domain": [2.47, 178.8], "nice": false},
        "axis": {"values": [3,4,5,6,7,8,9,10,20,30,40,50,60,70,80,90,100],
          "labelExpr": "datum.value == 10 ? '10¹' : datum.value == 100 ? '10²' : ''",
          "labelOverlap": false, "labelFlush": false, "titlePadding": 5,
          "tickSize": {"condition": {"test": "datum.value == 10 || datum.value == 100", "value": 5}, "value": 3},
          "gridColor": "#b0b0b0", "gridDash": [4, 2], "gridWidth": 0.8,
          "gridOpacity": {"condition": {"test": "datum.value == 10 || datum.value == 100", "value": 0}, "value": 1}}},
      "y": {"field": "v", "type": "quantitative", "title": "σ",
        "scale": {"type": "log", "domain": [0.0008, 0.071], "nice": false},
        "axis": {"values": [0.0008,0.0009,0.001,0.002,0.003,0.004,0.005,0.006,0.007,0.008,0.009,0.01,0.02,0.03,0.04,0.05,0.06,0.07],
          "labelExpr": "datum.value == 0.01 ? '10⁻²' : datum.value == 0.001 ? '10⁻³' : ''",
          "labelOverlap": false, "labelFlush": false, "titleX": -47, "titleFontStyle": "italic", "titleFontSize": 15,
          "tickSize": {"condition": {"test": "datum.value == 0.01 || datum.value == 0.001", "value": 5}, "value": 3},
          "gridColor": "#b0b0b0", "gridDash": [4, 2], "gridWidth": 0.8,
          "gridOpacity": {"condition": {"test": "datum.value == 0.01 || datum.value == 0.001", "value": 0}, "value": 1}}}
    },
    "layer": [
      {"data": {"name": "b"}, "mark": {"type": "line", "strokeWidth": 1.8},
       "encoding": {"color": {"field": "s", "type": "nominal",
         "scale": {"domain": ["1","24","47","70","93","116","139","162","185"], "range": ["#1f77b4","#ff7f0e","#2ca02c","#d62728","#9467bd","#8c564b","#e377c2","#7f7f7f","#bcbd22"]},
         "legend": {"orient": "bottom-left", "offset": 6, "title": null, "symbolType": "stroke", "symbolSize": 600, "symbolStrokeWidth": 2, "symbolOffset": 3, "labelFontSize": 12.5, "labelFont": "DejaVu Sans", "labelColor": "#000000", "labelOffset": 13, "rowPadding": -2.4, "padding": 3, "fillColor": "rgba(255,255,255,0.8)", "strokeColor": "#cccccc", "cornerRadius": 3}}}},
      {"data": {"name": "ref"}, "mark": {"type": "line", "color": "#000000", "strokeDash": [7, 3], "strokeWidth": 2}, "encoding": {}}
    ]
  }
]
}
